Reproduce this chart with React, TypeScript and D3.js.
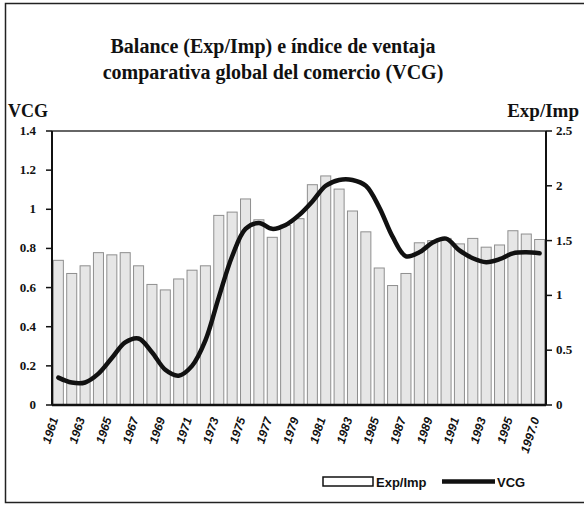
import React from 'react';
import * as d3 from 'd3';

const years = d3.range(1961, 1998);
// Exp/Imp ratio (right axis)
const expImp = [
    1.32, 1.20, 1.27, 1.39, 1.37, 1.39, 1.27, 1.10, 1.05, 1.15,
    1.23, 1.27, 1.73, 1.76, 1.88, 1.69, 1.53, 1.64, 1.70, 2.01,
    2.09, 1.97, 1.77, 1.58, 1.25, 1.09, 1.20, 1.48, 1.50, 1.52,
    1.47, 1.52, 1.44, 1.46, 1.59, 1.56, 1.51
];
// VCG index (left axis)
const vcg = [
    0.14, 0.115, 0.115, 0.16, 0.24, 0.32, 0.34, 0.27, 0.18, 0.15,
    0.20, 0.33, 0.55, 0.76, 0.90, 0.93, 0.90, 0.92, 0.97, 1.04,
    1.12, 1.15, 1.15, 1.12, 1.01, 0.86, 0.76, 0.78, 0.83, 0.85,
    0.79, 0.75, 0.73, 0.745, 0.775, 0.78, 0.775
];
const leftTicks = [0, 0.2, 0.4, 0.6, 0.8, 1, 1.2, 1.4];
const rightTicks = [0, 0.5, 1, 1.5, 2, 2.5];
const yearLabels = years.filter((y, i) => i % 2 === 0 || y === 1997);
const titleLines = ["Balance (Exp/Imp) e índice de ventaja", "comparativa global del comercio (VCG)"];

const width = 584;
const height = 506;
const plot = {left: 52, right: 546, top: 131, bottom: 405};
const serif = '"Liberation Serif", "Times New Roman", serif';
const sans = '"Liberation Sans", Arial, sans-serif';

export default function App() {
    const x = d3.scaleBand<number>()
        .domain(years)
        .range([plot.left, plot.right])
        .paddingInner(0.25)
        .paddingOuter(0.1);
    const yLeft = d3.scaleLinear().domain([0, 1.4]).range([plot.bottom, plot.top]);
    const yRight = d3.scaleLinear().domain([0, 2.5]).range([plot.bottom, plot.top]);

    const line = d3.line<number>()
        .x((d, i) => x(years[i])! + x.bandwidth() / 2)
        .y(d => yLeft(d))
        .curve(d3.curveCatmullRom.alpha(0.5));

    const fmt = (v: number) => (v === 0 ? "0" : String(v));

    return (
        <svg width={width} height={height} style={{position: 'absolute', left: 0, top: 0, background: '#fff'}}>
            <rect x={5.5} y={3.5} width={580} height={499} fill="none" stroke="#222" strokeWidth={1.5}/>

            <text textAnchor="middle" fontFamily={serif} fontWeight="bold" fontSize={20} fill="#111">
                {titleLines.map((t, i) => (
                    <tspan key={i} x={273} y={53 + i * 26}>{t}</tspan>
                ))}
            </text>
            <text x={8} y={117} fontFamily={serif} fontWeight="bold" fontSize={18} fill="#111">VCG</text>
            <text x={579} y={117} textAnchor="end" fontFamily={serif} fontWeight="bold" fontSize={19} fill="#111">Exp/Imp</text>

            {expImp.map((v, i) => (
                <rect key={years[i]}
                      x={x(years[i])}
                      y={yRight(v)}
                      width={x.bandwidth()}
                      height={yRight(0) - yRight(v)}
                      fill="#e6e6e6"
                      stroke="#8f8f8f"
                      strokeWidth={1}/>
            ))}

            <path d={line(vcg) || ""} fill="none" stroke="#111" strokeWidth={4.5} strokeLinejoin="round" strokeLinecap="round"/>

            {/* frame of the plot */}
            <line x1={plot.left} x2={plot.right} y1={plot.top} y2={plot.top} stroke="#333" strokeWidth={1.5}/>
            <line x1={plot.left} x2={plot.right} y1={plot.bottom} y2={plot.bottom} stroke="#111" strokeWidth={2.5}/>
            <line x1={plot.left} x2={plot.left} y1={plot.top} y2={plot.bottom} stroke="#111" strokeWidth={2}/>
            <line x1={plot.right} x2={plot.right} y1={plot.top} y2={plot.bottom} stroke="#111" strokeWidth={2}/>

            {leftTicks.map(t => (
                <g key={t}>
                    <line x1={plot.left - 6} x2={plot.left} y1={yLeft(t)} y2={yLeft(t)} stroke="#111" strokeWidth={1.5}/>
                    <text x={36} y={yLeft(t) + 4} textAnchor="end" fontFamily={serif} fontWeight="bold" fontSize={13} fill="#111">{fmt(t)}</text>
                </g>
            ))}
            {rightTicks.map(t => (
                <g key={t}>
                    <line x1={plot.right} x2={plot.right + 6} y1={yRight(t)} y2={yRight(t)} stroke="#111" strokeWidth={1.5}/>
                    <text x={556} y={yRight(t) + 4} fontFamily={serif} fontWeight="bold" fontSize={13} fill="#111">{fmt(t)}</text>
                </g>
            ))}

            {yearLabels.map(y => (
                <text key={y}
                      transform={`translate(${x(y)! + x.bandwidth() / 2},419) rotate(-72)`}
                      textAnchor="end"
                      fontFamily={sans}
                      fontWeight="bold"
                      fontStyle="italic"
                      fontSize={12}
                      fill="#111">{y === 1997 ? "1997.0" : y}</text>
            ))}

            {/* legend */}
            <rect x={323} y={477} width={50} height={9} fill="#fff" stroke="#111" strokeWidth={1.5}/>
            <text x={376} y={487} fontFamily={sans} fontWeight="bold" fontSize={13} fill="#111">Exp/Imp</text>
            <line x1={442} x2={495} y1={481.5} y2={481.5} stroke="#111" strokeWidth={4.5}/>
            <text x={497} y={487} fontFamily={sans} fontWeight="bold" fontSize={13} fill="#111">VCG</text>
        </svg>
    );
}
